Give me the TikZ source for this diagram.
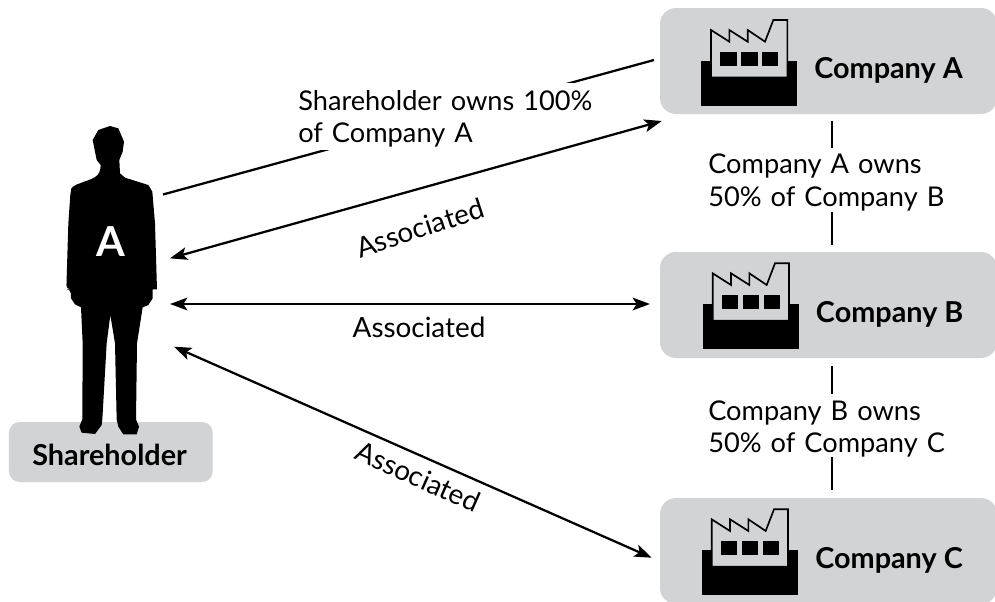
\documentclass[tikz,border=0pt]{standalone}
\usepackage{fontspec}
\setmainfont{Lato}
\usetikzlibrary{arrows.meta}
\definecolor{boxgray}{HTML}{D1D3D4}
\tikzset{
  box/.style={fill=boxgray,rounded corners=12pt,inner sep=0pt,minimum width=252.75pt,minimum height=79.5pt},
  conn/.style={line width=1.7pt},
  twoway/.style={line width=1.7pt,{Stealth[length=13pt,width=9.5pt,inset=3pt]}-{Stealth[length=13pt,width=9.5pt,inset=3pt]}},
  lab/.style={font=\fontsize{20.9pt}{24.3pt}\selectfont,inner sep=0pt},
  leftlab/.style={font=\fontsize{20.4pt}{24.3pt}\selectfont,inner sep=0pt,align=left,anchor=west,text width=230pt},
  boldlab/.style={font=\fontsize{21.6pt}{24pt}\selectfont\bfseries,inner sep=0pt,anchor=base west},
  factoryicon/.pic={
    \begin{scope}[x=.25pt,y=-.25pt]
      \fill[black] (154,182) rectangle (442,318);
      \draw[black,fill=boxgray,line width=1.25pt,line join=miter] (183,232) -- (183,90) -- (238,125) -- (238,90) -- (293,125) -- (293,90) -- (345,125) -- (370,60) -- (412,60) -- (412,232) -- cycle;
      \fill[black] (210,155) rectangle (260,197);
      \fill[black] (273,155) rectangle (323,197);
      \fill[black] (336,155) rectangle (385,197);
    \end{scope}
  }
}
\begin{document}
\begin{tikzpicture}[x=.75pt,y=-.75pt]
\useasboundingbox (0,0) rectangle (995,601);
% boxes
\node[box] (compA) at (828.5,61) {};
\node[box] (compB) at (828.5,305) {};
\node[box] (compC) at (828.5,551) {};
\node[box,rounded corners=8pt,minimum width=152.8pt,minimum height=45pt] (share) at (110.85,452) {};
% person
\begin{scope}[x=.25pt,y=-.25pt,yshift=-82.5pt]
\fill[black,rounded corners=3pt] (302,165) -- (300,188) -- (285,203) -- (218,228) -- (212,240) -- (205,340) -- (199,538) -- (212,538) [sharp corners] -- (213,565) -- (225,583) -- (243,592) -- (248,700) -- (247,928) -- (238,950) -- (245,968) -- (285,972) -- (305,945) -- (307,928) -- (320,700) -- (331,615) -- (345,700) -- (350,928) -- (355,950) -- (370,973) -- (410,973) -- (417,950) -- (408,928) -- (411,700) -- (428,592) -- (445,585) -- (458,565) -- (458,538) -- (471,538) -- (465,340) -- (457,245) -- (445,225) -- (375,203) -- (360,190) -- (358,150) -- (368,125) -- (372,95) -- (355,55) -- (330,48) -- (295,60) -- (278,90) -- (285,125) -- (290,150) -- cycle;
\end{scope}
\node[font=\fontsize{31pt}{31pt}\selectfont\bfseries,text=white,inner sep=0pt] (letterA) at (111,241.7) {A};
% icons
\pic at (650,0) {factoryicon};
\pic at (651.67,243.3) {factoryicon};
\pic at (650.67,489.3) {factoryicon};
% coordinates
\coordinate (pLine) at (163,194.5);
\coordinate (cLine) at (654,60);
\coordinate (a1) at (661.7,121);
\coordinate (a2) at (170,258.3);
\coordinate (b1) at (170,304);
\coordinate (b2) at (650,304);
\coordinate (c1) at (174,346.7);
\coordinate (c2) at (651.7,557.7);
\coordinate (v1) at (832,120.5);
\coordinate (v2) at (832,244.5);
\coordinate (v3) at (832,366);
\coordinate (v4) at (832,490);
% connectors broken by their labels
\draw[conn] (pLine) -- (cLine);
\draw[conn] (v1) -- (v2);
\draw[conn] (v3) -- (v4);
\fill[white] (296,83) rectangle (592,150);
\fill[white] (700,148) rectangle (950,212);
\fill[white] (700,393.5) rectangle (950,457);
% arrows
\draw[twoway] (a1) -- (a2);
\draw[twoway] (b1) -- (b2);
\draw[twoway] (c1) -- (c2);
% labels
\node[leftlab] (own) at (298,119) {Shareholder owns 100\%\\of Company A};
\node[leftlab] (ab) at (708,182.5) {Company A owns\\50\% of Company B};
\node[leftlab] (bc) at (708,429) {Company B owns\\50\% of Company C};
\node[lab,rotate=18] (as1) at (420,228) {Associated};
\node[lab,anchor=base] (as2) at (419,337.3) {Associated};
\node[lab,rotate=-24] (as3) at (418,476.7) {Associated};
\node[boldlab] (ta) at (814,78) {Company A};
\node[boldlab] (tb) at (815.7,322.7) {Company B};
\node[boldlab] (tc) at (815,568) {Company C};
\node[boldlab] (ts) at (32,465) {Shareholder};
\end{tikzpicture}
\end{document}
